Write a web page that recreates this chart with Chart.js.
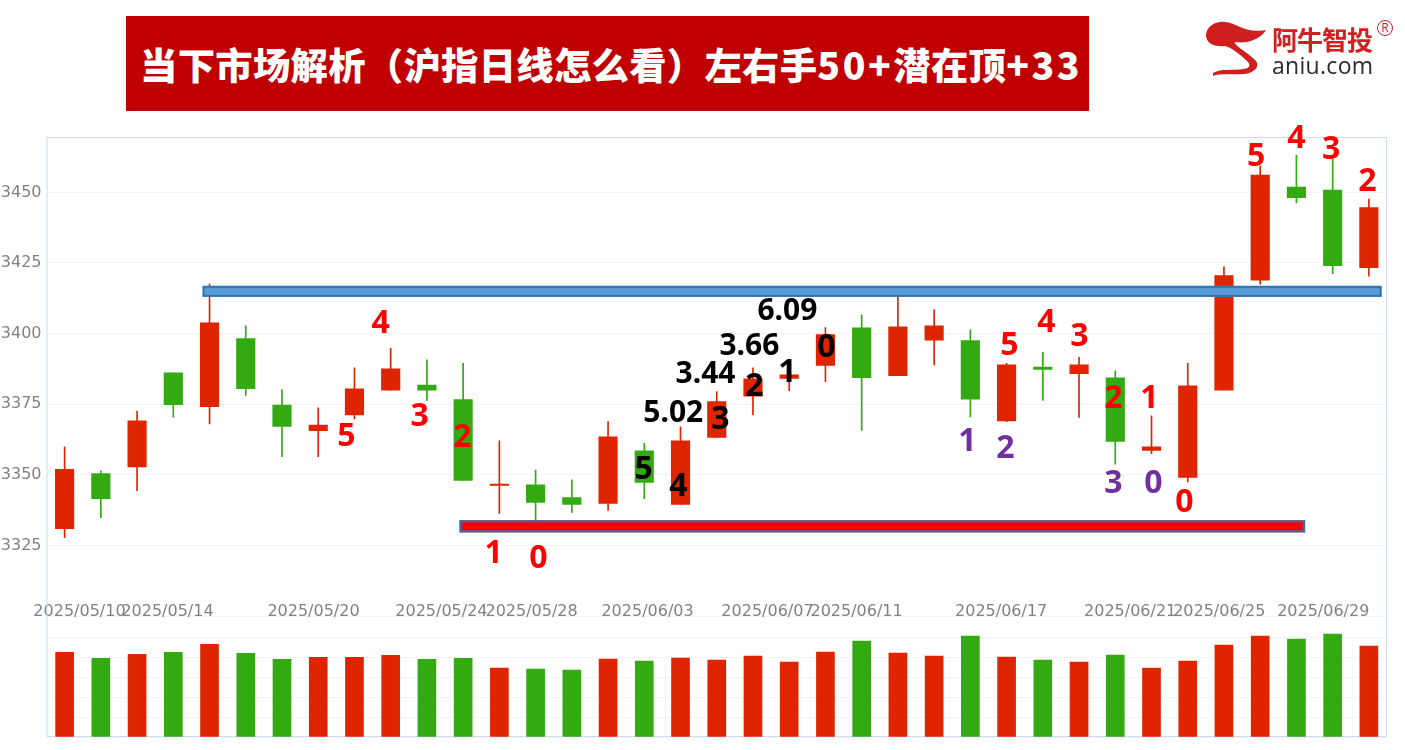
<!DOCTYPE html>
<html lang="zh"><head><meta charset="utf-8">
<script src="https://cdn.jsdelivr.net/npm/chart.js@4"></script>
<style>
html,body{margin:0;padding:0;background:#fff;width:1405px;height:750px;overflow:hidden}
#wrap{position:absolute;left:0;top:0;width:1405px;height:750px}
#banner{position:absolute;left:126px;top:16px;width:963px;height:95px;background:#c00000;color:#fff;box-sizing:border-box;padding-left:14px;
 font:900 37.33px "Noto Sans CJK SC","Noto Sans",sans-serif;line-height:97px;text-align:left;white-space:nowrap;letter-spacing:.3px}
#banner span{letter-spacing:2.6px}
#logo{position:absolute;left:1200px;top:14px;width:205px;height:70px}
#logoCn{position:absolute;left:72px;top:10px;font:bold 26px/30px "Noto Sans CJK SC",sans-serif;color:#d02020;letter-spacing:-1px;white-space:nowrap}
#logoEn{position:absolute;left:72px;top:38px;font:23px/26px "Open Sans",sans-serif;color:#2b2b2b;white-space:nowrap;letter-spacing:.3px}
#logoR{position:absolute;left:177px;top:6px;width:14px;height:14px;border:1px solid #d02020;border-radius:50%;font:12px/14px "Open Sans",sans-serif;color:#d02020;text-align:center}
</style></head><body>
<div id="wrap"><canvas id="c" width="1405" height="750"></canvas></div>
<div id="banner">当下市场解析（沪指日线怎么看）左右手<span>50+</span>潜在顶<span>+33</span></div>
<div id="logo">
<svg width="72" height="70" style="position:absolute;left:0;top:0"><path fill="#cf1e1e" d="M6 22C6 12 16 7 25 8C38 9 44 20 66 16C60 26 46 30 35 28C33 31 50 40 56 47C60 53 54 59 44 60C32 61 20 59 13 62L13 59C22 54 32 57 44 55C50 54 51 51 47 47C40 40 30 33 25 32C14 33 7 30 6 22Z"/></svg>
<div id="logoCn">阿牛智投</div><div id="logoEn">aniu.com</div><div id="logoR">R</div>
</div>
<script>
const categories=["05/09","05/10","05/12","05/14","05/15","05/16","05/17","05/19","05/20","05/21","05/22","05/24","05/26","05/28","05/29","05/30","06/03","06/04","06/05","06/06","06/07","06/09","06/11","06/12","06/13","06/14","06/17","06/18","06/19","06/20","06/21","06/24","06/25","06/26","06/27","06/29","06/30"];
const openValues=[3330.9,3350.4,3352.8,3386.1,3374.1,3398.2,3374.7,3365.6,3371.2,3380,3381.8,3376.6,3346.2,3346.4,3341.9,3339.9,3358.5,3339.5,3363.2,3377.8,3384.1,3388.7,3402,3385.1,3397.7,3397.5,3369.1,3388.1,3385.8,3384.3,3358.6,3349.1,3380,3418.9,3451.9,3450.8,3423.3];
const closeValues=[3351.9,3341.5,3369.1,3374.8,3403.8,3380.5,3367.1,3367.6,3380.4,3387.5,3380,3348,3346.7,3340.2,3339.5,3363.4,3347.3,3362,3375.9,3384,3385.4,3399.6,3384.4,3402.4,3402.7,3376.8,3388.9,3387.3,3388.9,3361.8,3359.9,3381.5,3420.5,3456.1,3448.1,3424,3444.6];
const highValues=[3359.9,3351.4,3372.6,3386.1,3417.5,3402.7,3380.1,3373.7,3387.9,3394.8,3390.7,3389.5,3362,3351.7,3348.2,3368.8,3361.1,3367,3379.5,3387.9,3390,3402.1,3406.6,3414,3408.4,3401.3,3389.5,3393.4,3391.6,3386.8,3370.9,3389.5,3423.6,3459.3,3463.1,3462.6,3447.6];
const lowValues=[3327.7,3334.8,3344.4,3370.3,3368,3378.1,3356.4,3356.4,3369.8,3380,3376.3,3348,3336.3,3333.8,3336.7,3337.4,3341.5,3339.5,3363.2,3371.2,3379.8,3383,3365.7,3385.1,3388.9,3370.5,3368.8,3376.3,3370.3,3353.8,3357.5,3347.5,3380,3417.5,3446.3,3421.2,3420.3];
const volumeValues=[84.7,78.7,82.7,84.7,92.7,83.7,77.7,79.7,79.7,81.7,77.7,78.7,69,68,67,78,76,79,77,81,75,85,96,84,81,101,80,77,75,82,69,76,92,101,98,103,91];
const dateTickLabels=["2025/05/10","2025/05/14","2025/05/20","2025/05/24","2025/05/28","2025/06/03","2025/06/07","2025/06/11","2025/06/17","2025/06/21","2025/06/25","2025/06/29"];
const dateTickPositions=[0.41,2.84,6.87,10.40,12.89,16.09,19.40,21.86,25.85,29.41,31.87,34.74];
const noteTexts=["4","5","3","2","1","0","5","4","5.02","3","3.44","2","3.66","1","6.09","0","1","2","5","4","3","2","1","3","0","0","5","4","3","2"];
const noteIndex=[8.72,7.78,9.80,10.98,11.84,13.08,15.98,16.94,16.80,18.10,17.69,19.04,18.90,19.95,19.95,21.03,24.92,25.97,26.08,27.10,28.01,28.95,29.94,28.95,30.05,30.91,32.89,34.0,34.96,35.96];
const notePrices=[3404.1,3364.2,3371.2,3363.8,3322.8,3321,3352.5,3346.5,3372.6,3370.2,3386.4,3381.8,3396.3,3386.8,3408.4,3395.6,3362.4,3359.9,3396.3,3404.5,3399.5,3377.6,3377.6,3347.5,3347.5,3340.8,3463.2,3469.6,3465.7,3454.4];
const noteKinds=["r","r","r","r","r","r","k","k","k","k","k","k","k","k","k","k","p","p","r","r","r","r","r","p","p","r","r","r","r","r"];
const levelNames=["resistance","support"];
const levelStart=[3.81,10.9];
const levelEnd=[36.35,34.24];
const levelTop=[3416.9,3333.9];
const levelBottom=[3413,3329.6];

const UP="#df2500",DOWN="#33a912",GRID="#f3f4f9",FRAME="#cfdbf2",TXT="#808086";
const NOTE={r:"#ff0000",k:"#000000",p:"#7030a0"};
const LEVEL=["#5b9bd5","#ff0000"];
const candleColors=openValues.map((o,i)=>closeValues[i]>=o?UP:DOWN);
const FONT='"DejaVu Sans",sans-serif';
function trimY(s){s.width=46.5;s.paddingTop=0;s.paddingBottom=0;}
function trimX(s){s.paddingLeft=0;s.paddingRight=0;s.paddingTop=0;s.paddingBottom=0;}

const overlay={
 id:"overlay",
 beforeDatasetsDraw(ch){const a=ch.chartArea,c=ch.ctx;c.save();c.strokeStyle=FRAME;c.lineWidth=1;
   c.strokeRect(a.left+.5,a.top+.5,a.right-a.left-1,a.bottom-a.top-1);c.restore();},
 afterDatasetsDraw(ch){
  const c=ch.ctx,X=ch.scales.xPos,Y=ch.scales.y;
  c.save();
  levelNames.forEach((n,i)=>{
    const l=X.getPixelForValue(levelStart[i]),r=X.getPixelForValue(levelEnd[i]),
          t=Y.getPixelForValue(levelTop[i]),b=Y.getPixelForValue(levelBottom[i]);
    c.fillStyle=LEVEL[i];c.strokeStyle="#2e75b6";c.lineWidth=2;
    c.fillRect(l,t,r-l,b-t);c.strokeRect(l+1,t+1,r-l-2,b-t-2);
  });
  c.textAlign="center";c.textBaseline="middle";
  noteTexts.forEach((s,i)=>{
    c.font=(s.length>1?"bold 30px":"bold 32px")+' "Noto Sans","Open Sans",sans-serif';
    c.fillStyle=NOTE[noteKinds[i]];
    c.fillText(s,X.getPixelForValue(noteIndex[i]),Y.getPixelForValue(notePrices[i])+2);
  });
  c.restore();
 }
};

new Chart(document.getElementById("c"),{
 data:{labels:categories,datasets:[
  {type:"bar",label:"影线",order:2,grouped:false,yAxisID:"y",xAxisID:"x",data:lowValues.map((l,i)=>[l,highValues[i]]),
   backgroundColor:candleColors,barThickness:1,borderSkipped:false},
  {type:"bar",label:"K线",order:1,grouped:false,yAxisID:"y",xAxisID:"x",data:openValues.map((o,i)=>[o,closeValues[i]]),
   backgroundColor:candleColors,barThickness:18.5,borderSkipped:false},
  {type:"bar",label:"成交量",order:1,grouped:false,yAxisID:"yVol",xAxisID:"x",data:volumeValues,
   backgroundColor:candleColors,barThickness:18}
 ]},
 options:{
  responsive:false,animation:false,
  layout:{padding:{left:0,right:18,top:137,bottom:13}},
  plugins:{legend:{display:false},tooltip:{enabled:false},title:{display:false}},
  scales:{
   x:{type:"category",position:"bottom",offset:true,display:false,grid:{display:false},afterFit:trimX},
   xPos:{type:"linear",min:-0.5,max:36.5,position:{y:3307.8},
     grid:{display:false},border:{display:false},afterFit:trimX,
     afterBuildTicks(s){s.ticks=dateTickPositions.map(v=>({value:v}));},
     ticks:{autoSkip:false,maxRotation:0,minRotation:0,padding:0,color:TXT,font:{family:FONT,size:16},
       callback:(v)=>dateTickLabels[dateTickPositions.indexOf(v)]||""}},
   yVol:{type:"linear",position:"left",stack:"panes",stackWeight:121,min:0,max:121,
     afterFit:trimY,
     grid:{color:GRID,drawTicks:false},border:{display:false},
     ticks:{stepSize:20,display:false}},
   y:{type:"linear",position:"left",stack:"panes",stackWeight:479,min:3300,max:3469.6,
     afterFit:trimY,
     grid:{color:GRID,drawTicks:false},border:{display:false},
     ticks:{stepSize:25,padding:5,color:TXT,font:{family:FONT,size:16},
       callback:v=>(v>=3325&&v<=3450&&v%25===0)?String(v):""}}
  }
 },
 plugins:[overlay]
});
</script>
</body></html>
